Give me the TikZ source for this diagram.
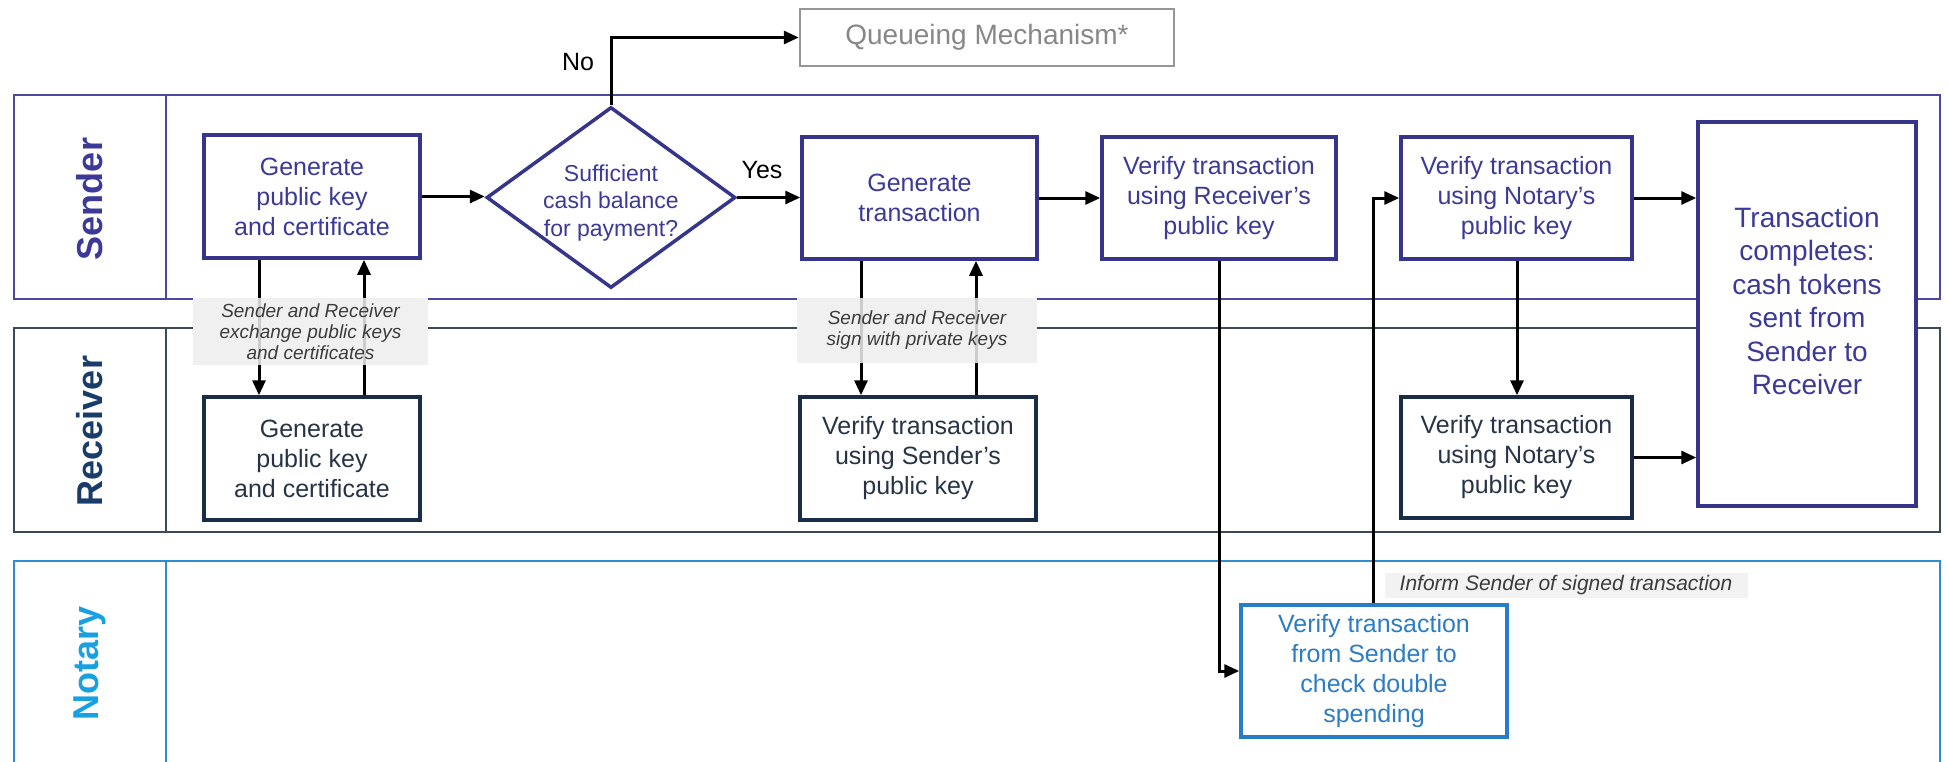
\documentclass[tikz,border=0pt]{standalone}
\usepackage{fontspec}
\setmainfont{Liberation Sans}
\usetikzlibrary{shapes.geometric,arrows.meta}
\definecolor{sendB}{RGB}{55,52,140}
\definecolor{sendT}{RGB}{60,58,150}
\definecolor{sendLane}{RGB}{75,72,160}
\definecolor{recvB}{RGB}{25,45,72}
\definecolor{recvT}{RGB}{40,52,70}
\definecolor{recvL}{RGB}{25,60,105}
\definecolor{recvLane}{RGB}{60,74,88}
\definecolor{notB}{RGB}{40,125,200}
\definecolor{notT}{RGB}{45,125,195}
\definecolor{notL}{RGB}{25,160,225}
\definecolor{notLane}{RGB}{45,140,210}
\definecolor{qgray}{RGB}{150,150,150}
\definecolor{qtext}{RGB}{135,135,135}
\definecolor{notebg}{RGB}{240,240,240}
\definecolor{notetext}{RGB}{60,60,60}
\begin{document}
\begin{tikzpicture}[x=1pt,y=-1pt,
  box/.style={draw, line width=3.5pt, fill=white, align=center, inner sep=0pt,
    font=\fontsize{25}{30}\selectfont},
  sbox/.style={box, draw=sendB, text=sendT},
  rbox/.style={box, draw=recvB, text=recvT},
  nbox/.style={box, draw=notB, text=notT},
  lanelabel/.style={rotate=90, font=\bfseries\fontsize{36}{40}\selectfont},
  arr/.style={line width=3pt, black, -{Triangle[length=15pt,width=13pt]}},
  notebox/.style={fill=notebg, fill opacity=0.85, text opacity=1, text=notetext,
    align=center, inner sep=0pt, font=\itshape\fontsize{19}{21}\selectfont},
  decision/.style={font=\fontsize{25}{30}\selectfont, black}
]
\useasboundingbox (0,0) rectangle (1948,761);

% lanes
\draw[sendLane, line width=2.2pt] (14,95) rectangle (1940,299);
\draw[sendLane, line width=2.2pt] (166,95) -- (166,299);
\draw[recvLane, line width=2.2pt] (14,328) rectangle (1940,532);
\draw[recvLane, line width=2.2pt] (166,328) -- (166,532);
\draw[notLane, line width=2.2pt] (14,561) rectangle (1940,790);
\draw[notLane, line width=2.2pt] (166,561) -- (166,790);

\node[lanelabel, text=sendT] (lS) at (90,199) {Sender};
\node[lanelabel, text=recvL] (lR) at (90,431) {Receiver};
\node[lanelabel, text=notL] (lN) at (90,663) {Notary};

% opaque backing of the grey notes (hides the lane lines)
\fill[notebg] (193,298) rectangle (428,365);
\fill[notebg] (797,298) rectangle (1037,363);

% boxes
\node[sbox, minimum width=216pt, minimum height=123pt] (s1) at (312,196.5)
  {Generate\\public key\\and certificate};
\node[draw=sendB, line width=3.5pt, fill=white, diamond, inner sep=0pt,
  minimum width=249pt, minimum height=181pt] (dia) at (611,197.5) {};
\node[align=center, text=sendT, font=\fontsize{23}{27.5}\selectfont] (diat)
  at (611,203) {Sufficient\\cash balance\\for payment?};
\node[draw=qgray, line width=2.5pt, text=qtext, minimum width=374pt,
  minimum height=57pt, inner sep=0pt, font=\fontsize{28}{32}\selectfont]
  (q) at (987,37.5) {Queueing Mechanism*};
\node[sbox, minimum width=235pt, minimum height=122pt] (s2) at (919.5,198)
  {Generate\\transaction};
\node[sbox, minimum width=234pt, minimum height=122pt] (s3) at (1219,198)
  {Verify transaction\\using Receiver’s\\public key};
\node[sbox, minimum width=231pt, minimum height=122pt] (s4) at (1516.5,198)
  {Verify transaction\\using Notary’s\\public key};
\node[sbox, minimum width=218pt, minimum height=384pt] (tc) at (1807,314) {};
\node[align=center, text=sendT, font=\fontsize{28}{33.4}\selectfont] (tct)
  at (1807,301) {Transaction\\completes:\\cash tokens\\sent from\\Sender to\\Receiver};

\node[rbox, minimum width=216pt, minimum height=123pt] (r1) at (312,458.5)
  {Generate\\public key\\and certificate};
\node[rbox, minimum width=236pt, minimum height=123pt] (r2) at (918,458.5)
  {Verify transaction\\using Sender’s\\public key};
\node[rbox, minimum width=231pt, minimum height=121pt] (r3) at (1516.5,457.5)
  {Verify transaction\\using Notary’s\\public key};

\node[nbox, minimum width=266pt, minimum height=132pt] (n1) at (1374,671)
  {Verify transaction\\from Sender to\\check double\\spending};

% columns
\coordinate (c1) at (259,0);
\coordinate (c2) at (364,0);
\coordinate (c3) at (861,0);
\coordinate (c4) at (976,0);
\coordinate (c5) at (1219,0);
\coordinate (c6) at (1373,0);
\coordinate (c7) at (1517,0);

% connectors
\draw[arr] (s1.east) -- (s1.east -| dia.west);
\draw[arr] (dia.east) -- (dia.east -| s2.west);
\draw[arr] (dia.north) |- (q.west);
\draw[arr] (s2.east) -- (s3.west);
\draw[arr] (s1.south -| c1) -- (r1.north -| c1);
\draw[arr] (r1.north -| c2) -- (s1.south -| c2);
\draw[arr] (s2.south -| c3) -- (r2.north -| c3);
\draw[arr] (r2.north -| c4) -- (s2.south -| c4);
\draw[arr] (s3.south -| c5) |- (n1.west);
\draw[arr] (n1.north -| c6) |- (s4.west);
\draw[arr] (s4.south -| c7) -- (r3.north -| c7);
\draw[arr] (s4.east) -- (s4.east -| tc.west);
\draw[arr] (r3.east) -- (r3.east -| tc.west);

% labels
\node[decision] (no) at (578,62) {No};
\node[decision] (yes) at (762,170) {Yes};

\node[notebox, minimum width=235pt, minimum height=67pt] (nt1) at (310.5,331.5)
  {Sender and Receiver\\exchange public keys\\and certificates};
\node[notebox, minimum width=240pt, minimum height=65pt] (nt2) at (917,330.5)
  {Sender and Receiver\\sign with private keys};
\node[notebox, minimum width=363pt, minimum height=25pt,
  font=\itshape\fontsize{21}{23}\selectfont] (nt3) at (1566,585)
  {Inform Sender of signed transaction};
\end{tikzpicture}
\end{document}
